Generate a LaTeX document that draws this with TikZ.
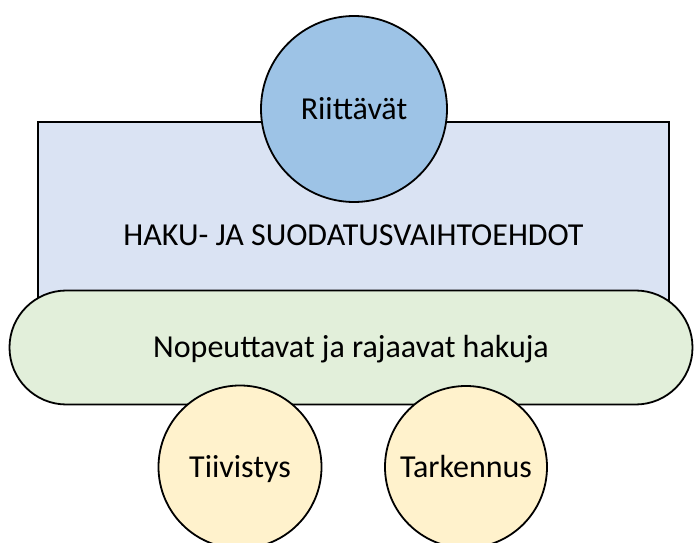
\documentclass[tikz,border=0pt]{standalone}
\usepackage{fontspec}
\setmainfont{Carlito}
\definecolor{topblue}{HTML}{9DC3E6}
\definecolor{panelblue}{HTML}{DAE3F3}
\definecolor{bandgreen}{HTML}{E2EFDA}
\definecolor{bubbleyellow}{HTML}{FFF2CC}
\begin{document}
\begin{tikzpicture}[x=1pt,y=-1pt,
  every node/.style={draw=black, line width=1.8pt, inner sep=0pt, text=black,
    font=\fontsize{32}{38}\selectfont, text height=20.6pt, text depth=0pt},
  panel/.style={rectangle, fill=panelblue, minimum width=631pt, minimum height=226pt},
  band/.style={rectangle, rounded corners=56.9pt, fill=bandgreen, minimum width=683pt, minimum height=114pt},
  bubble/.style={circle, minimum size=#1},
]
\useasboundingbox (0,0) rectangle (694,543);
% main panel with its caption
\node[panel] (panel) at (353.5,235) {HAKU- JA SUODATUSVAIHTOEHDOT};
% circle sitting on the top edge of the panel
\node[bubble=186pt, fill=topblue] (riit) at (354,109) {Riittävät};
% rounded band across the bottom of the panel
\node[band] (band) at (351,347.5) {Nopeuttavat ja rajaavat hakuja};
% two circles hanging below the band
\node[bubble=163pt, fill=bubbleyellow] (tiiv) at (240,467) {Tiivistys};
\node[bubble=162pt, fill=bubbleyellow] (tark) at (466,467) {Tarkennus};
\end{tikzpicture}
\end{document}
